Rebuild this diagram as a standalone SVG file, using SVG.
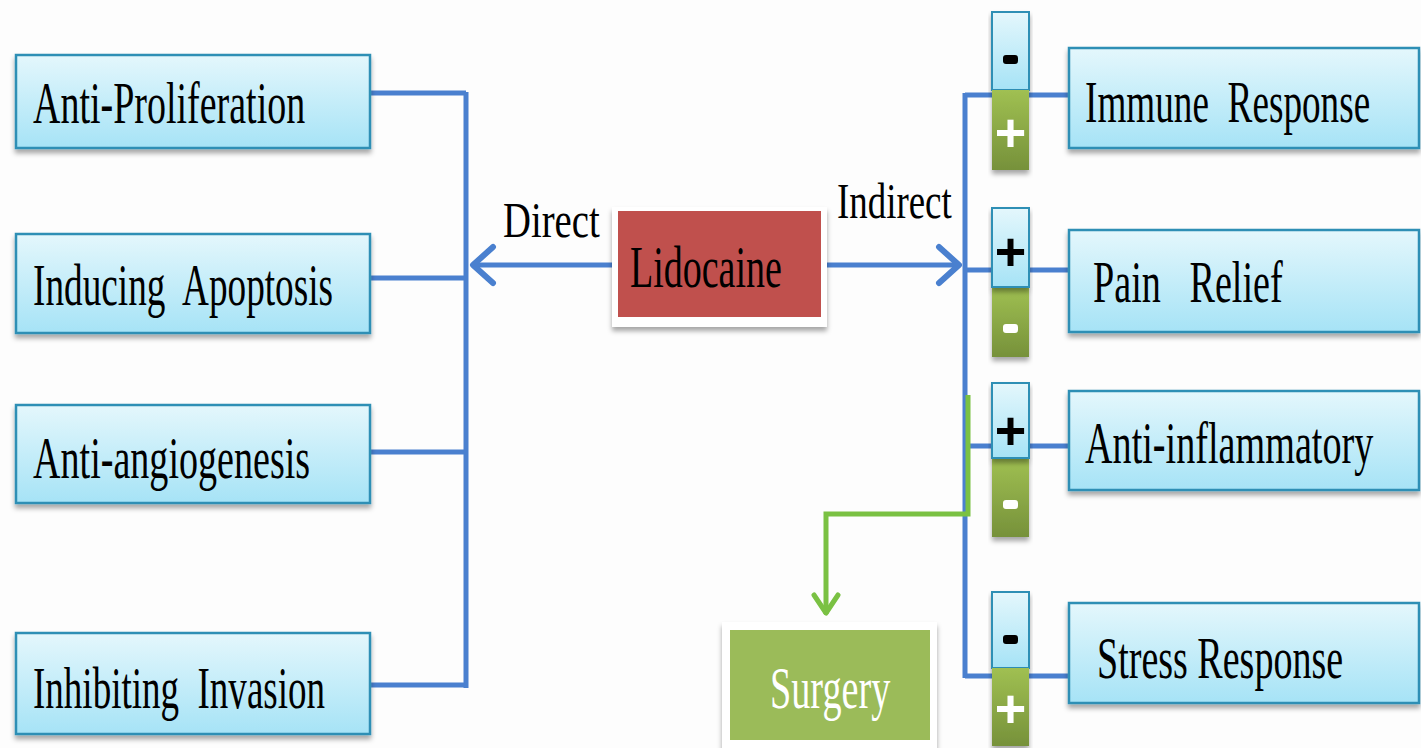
<svg xmlns="http://www.w3.org/2000/svg" width="1421" height="748" viewBox="0 0 1421 748">
<defs>
<linearGradient id="gBlue" x1="0" y1="0" x2="0" y2="1">
<stop offset="0" stop-color="#e4f7fc"/>
<stop offset="1" stop-color="#a6e3f6"/>
</linearGradient>
<linearGradient id="gGreen" x1="0" y1="0" x2="0" y2="1">
<stop offset="0" stop-color="#a0c052"/>
<stop offset="1" stop-color="#76913a"/>
</linearGradient>
<filter id="sh" x="-10%" y="-10%" width="120%" height="130%">
<feDropShadow dx="0" dy="4" stdDeviation="2.5" flood-color="#000" flood-opacity="0.35"/>
</filter>
<marker id="chevB" viewBox="0 0 28 44" refX="25" refY="22" markerWidth="28" markerHeight="44" markerUnits="userSpaceOnUse" orient="auto">
<path d="M4,4 L24,22 L4,40" fill="none" stroke="#4a80cf" stroke-width="6" stroke-linecap="round" stroke-linejoin="round"/>
</marker>
<marker id="chevG" viewBox="0 0 26 30" refX="23" refY="15" markerWidth="26" markerHeight="30" markerUnits="userSpaceOnUse" orient="auto">
<path d="M4,3 L22,15 L4,27" fill="none" stroke="#7ac143" stroke-width="5" stroke-linecap="round" stroke-linejoin="round"/>
</marker>
<style>
.box{fill:url(#gBlue);stroke:#2f8fb5;stroke-width:2.5;filter:url(#sh)}
.tabB{fill:url(#gBlue);stroke:#2f8fb5;stroke-width:2;filter:url(#sh)}
.tabG{fill:url(#gGreen);filter:url(#sh)}
.t{font-family:"Liberation Serif","Times New Roman",serif;font-size:60px;fill:#000;white-space:pre}
.lbl{font-family:"Liberation Serif","Times New Roman",serif;font-size:50px;fill:#000}
.sym{font-family:"Liberation Sans",Arial,sans-serif;font-weight:bold;font-size:54px;text-anchor:middle}
.blue{fill:none;stroke:#4a80cf;stroke-width:5}
.green{fill:none;stroke:#7ac143;stroke-width:5}
</style>
</defs>
<rect width="1421" height="748" fill="#fdfdfd"/>

<g id="connectors">
<path class="blue" d="M370,93 H466 M466,92 V688 M370,278 H466 M370,452 H466 M370,685 H466"/>
<line class="blue" x1="615" y1="265" x2="472" y2="265" marker-end="url(#chevB)"/>
<line class="blue" x1="826" y1="265" x2="960" y2="265" marker-end="url(#chevB)"/>
<path class="blue" d="M965,93 V678 M965,95 H1069 M965,270 H1069 M965,446 H1069 M965,676 H1069"/>
<path class="green" d="M968,395 V514 H826 V614" marker-end="url(#chevG)"/>
</g>

<g id="label-direct"><text class="lbl" transform="translate(503,237) scale(0.62,1)" textLength="156" lengthAdjust="spacingAndGlyphs">Direct</text></g>
<g id="label-indirect"><text class="lbl" transform="translate(837,218) scale(0.62,1)" textLength="185" lengthAdjust="spacingAndGlyphs">Indirect</text></g>

<g id="anti-proliferation">
<rect class="box" x="16" y="55" width="354" height="93"/>
<text class="t" transform="translate(33,123) scale(0.62,1)" textLength="439" lengthAdjust="spacingAndGlyphs">Anti-Proliferation</text>
</g>
<g id="inducing-apoptosis">
<rect class="box" x="16" y="234" width="354" height="99"/>
<text class="t" transform="translate(33,305) scale(0.62,1)" textLength="484" lengthAdjust="spacingAndGlyphs">Inducing  Apoptosis</text>
</g>
<g id="anti-angiogenesis">
<rect class="box" x="16" y="405" width="354" height="98"/>
<text class="t" transform="translate(33,478) scale(0.62,1)" textLength="447" lengthAdjust="spacingAndGlyphs">Anti-angiogenesis</text>
</g>
<g id="inhibiting-invasion">
<rect class="box" x="16" y="633" width="354" height="101"/>
<text class="t" transform="translate(33,708) scale(0.62,1)" textLength="471" lengthAdjust="spacingAndGlyphs">Inhibiting  Invasion</text>
</g>

<g id="lidocaine">
<rect x="612" y="207" width="215" height="120" fill="#ffffff" filter="url(#sh)"/>
<rect x="618" y="211" width="203" height="106" fill="#c0504d"/>
<text class="t" transform="translate(630,287) scale(0.62,1)" textLength="245" lengthAdjust="spacingAndGlyphs">Lidocaine</text>
</g>

<g id="surgery">
<rect x="722" y="622" width="215" height="130" fill="#ffffff" filter="url(#sh)"/>
<rect x="730" y="630" width="200" height="110" fill="#9bbb59"/>
<text class="t" transform="translate(770,708) scale(0.62,1)" style="fill:#fff" textLength="194" lengthAdjust="spacingAndGlyphs">Surgery</text>
</g>

<g id="immune-response">
<rect class="box" x="1069" y="48" width="350" height="100"/>
<text class="t" transform="translate(1085,122) scale(0.62,1)" textLength="460" lengthAdjust="spacingAndGlyphs">Immune  Response</text>
<rect class="tabB" x="992" y="12" width="37" height="78"/>
<rect class="tabG" x="992" y="90" width="37" height="80"/>
<rect x="1003" y="55" width="15" height="9" rx="3" fill="#000"/>
<text class="sym" x="1010.5" y="151" fill="#fff">+</text>
</g>

<g id="pain-relief">
<rect class="box" x="1069" y="230" width="350" height="102"/>
<text class="t" transform="translate(1093,302) scale(0.62,1)" textLength="306" lengthAdjust="spacingAndGlyphs">Pain   Relief</text>
<rect class="tabG" x="992" y="287" width="37" height="70"/>
<rect class="tabB" x="992" y="208" width="37" height="79"/>
<text class="sym" x="1010.5" y="270" fill="#000">+</text>
<rect x="1003" y="324" width="15" height="9" rx="3" fill="#fff"/>
</g>

<g id="anti-inflammatory">
<rect class="box" x="1069" y="391" width="350" height="99"/>
<text class="t" transform="translate(1085,463) scale(0.62,1)" textLength="465" lengthAdjust="spacingAndGlyphs">Anti-inflammatory</text>
<rect class="tabG" x="992" y="458" width="37" height="79"/>
<rect class="tabB" x="992" y="383" width="37" height="75"/>
<text class="sym" x="1010.5" y="449" fill="#000">+</text>
<rect x="1003" y="500" width="15" height="9" rx="3" fill="#fff"/>
</g>

<g id="stress-response">
<rect class="box" x="1069" y="603" width="350" height="100"/>
<text class="t" transform="translate(1097,678) scale(0.62,1)" textLength="397" lengthAdjust="spacingAndGlyphs">Stress Response</text>
<rect class="tabB" x="992" y="592" width="37" height="76"/>
<rect class="tabG" x="992" y="668" width="37" height="78"/>
<rect x="1003" y="635" width="15" height="9" rx="3" fill="#000"/>
<text class="sym" x="1010.5" y="727" fill="#fff">+</text>
</g>
</svg>
